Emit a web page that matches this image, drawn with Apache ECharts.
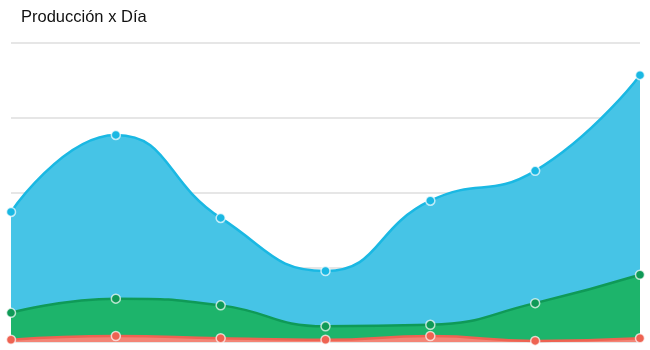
<!DOCTYPE html>
<html><head><meta charset="utf-8">
<script src="https://cdn.jsdelivr.net/npm/echarts@6/dist/echarts.min.js"></script>
<style>html,body{margin:0;padding:0;background:#fff}#c{width:650px;height:350px}</style>
</head><body><div id="c"></div>
<script>
var categories = ['1','2','3','4','5','6','7'];
var serieAzul = [174, 277, 166, 95, 189, 229, 357];
var serieVerde = [39, 58, 49, 21, 23, 52, 90];
var serieRoja = [3, 8, 5, 3, 8, 1.5, 5];
var yTicks = [0, 100, 200, 300, 400];

function mk(name, data, line, area) {
  return {
    name: name, type: 'line', smooth: true, data: data,
    symbol: 'circle', symbolSize: 9, showAllSymbol: true,
    lineStyle: { color: line, width: 2.5 },
    itemStyle: { color: line, borderColor: 'rgba(255,255,255,0.7)', borderWidth: 1.5 },
    areaStyle: { color: area, opacity: 1 }
  };
}
var chart = echarts.init(document.getElementById('c'));
chart.setOption({
  animation: false,
  title: { text: 'Producción x Día', left: 16, top: 4,
    textStyle: { fontFamily: 'Liberation Sans, Arial, sans-serif', fontSize: 16.5, fontWeight: 'normal', color: '#111' } },
  grid: { left: 11, right: 10, top: 43, bottom: 8, containLabel: false },
  xAxis: { type: 'category', data: categories, boundaryGap: false, show: false },
  yAxis: { type: 'value', min: yTicks[0], max: yTicks[yTicks.length - 1], interval: 100,
    axisLabel: { show: false }, axisLine: { show: false }, axisTick: { show: false },
    splitLine: { lineStyle: { color: '#e6e6e6', width: 2 } } },
  series: [
    mk('A', serieAzul, '#1ab8e3', '#46c4e6'),
    mk('B', serieVerde, '#0f9a57', '#1db46b'),
    mk('C', serieRoja, '#ee6352', '#f38576')
  ]
});
</script></body></html>
